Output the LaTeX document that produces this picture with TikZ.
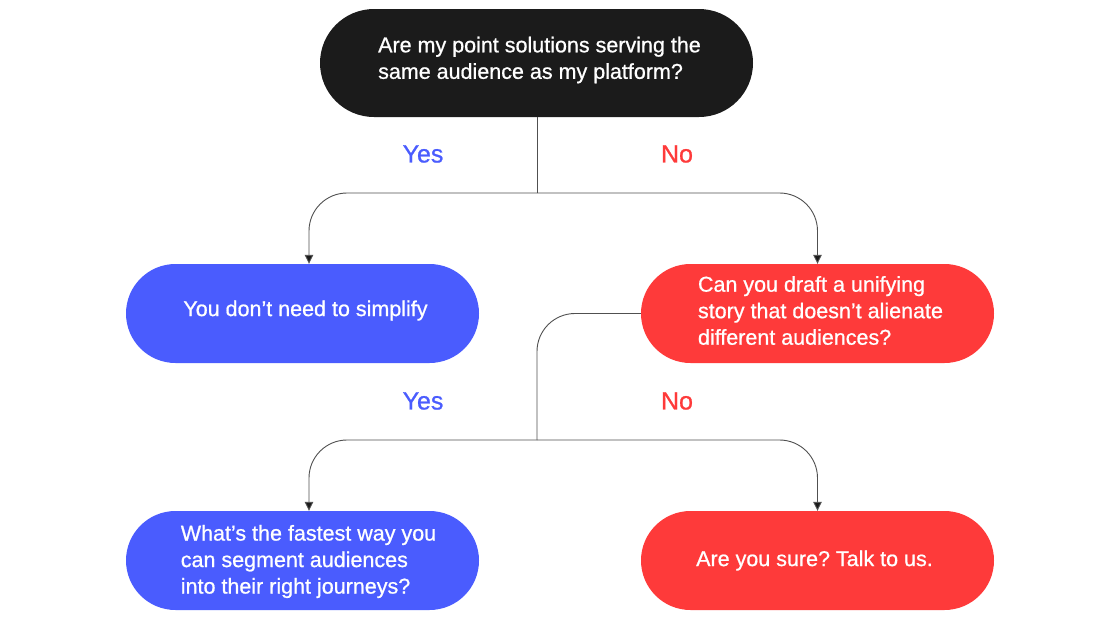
\documentclass[tikz,border=0pt]{standalone}
\usepackage{fontspec}
\setmainfont[FakeBold=0.8]{Liberation Sans}
\frenchspacing
\usetikzlibrary{arrows.meta,calc}
\definecolor{qblack}{HTML}{1B1B1B}
\definecolor{qblue}{HTML}{4A5CFE}
\definecolor{qred}{HTML}{FE3A3A}
\definecolor{qline}{HTML}{505050}
\tikzset{
  pill/.style={rectangle, rounded corners=#1, inner sep=0pt},
  bigpill/.style={pill=54pt, minimum width=433pt, minimum height=108pt, fill=qblack},
  smallpill/.style={pill=49.5pt, minimum width=353pt, minimum height=99pt},
  bluepill/.style={smallpill, fill=qblue},
  redpill/.style={smallpill, fill=qred},
  pilltext/.style={text=white, align=left, inner sep=0pt, yshift=3pt,
    font=\fontsize{21.5}{26.5}\selectfont},
  conn/.style={draw=qline, line width=0.9pt, rounded corners=38pt},
  arr/.style={conn, -{Triangle[length=9pt,width=8.5pt,fill=qblack]}},
  yeslab/.style={text=qblue, font=\fontsize{25}{26}\selectfont},
  nolab/.style={text=qred, font=\fontsize{25}{26}\selectfont}
}
\begin{document}
\begin{tikzpicture}[x=1pt,y=-1pt]
\useasboundingbox (0,0) rectangle (1120,630);
\node[bigpill, label={[pilltext, xshift=3pt]center:{Are my point solutions serving the\\same audience as my platform?}}] (q1) at (536.5,63) {};
\node[bluepill, label={[pilltext, xshift=3pt]center:{You don’t need to simplify}}] (a1) at (302.5,313.5) {};
\node[redpill, label={[pilltext, xshift=3pt]center:{Can you draft a unifying\\story that doesn’t alienate\\different audiences?}}] (q2) at (817.5,313.5) {};
\node[bluepill, label={[pilltext, xshift=6pt, yshift=-4pt]center:{What’s the fastest way you\\can segment audiences\\into their right journeys?}}] (a2) at (302.5,560.5) {};
\node[redpill, label={[pilltext, xshift=-3pt, yshift=-3pt]center:{Are you sure? Talk to us.}}] (a3) at (817.5,560.5) {};
\node[yeslab] (y1) at (423,154) {Yes};
\node[nolab] (n1) at (677,154) {No};
\node[yeslab] (y2) at (423,401) {Yes};
\node[nolab] (n2) at (677,401) {No};
\coordinate (j1) at (537,193);
\coordinate (j2) at (537,440);
\draw[conn] (q1.south -| j1) -- (j1);
\draw[arr] (j1) -| ([xshift=6.5pt]a1.north);
\draw[arr] (j1) -| (q2.north);
\draw[conn] (q2.west) -| (j2);
\draw[arr] (j2) -| ([xshift=6.5pt]a2.north);
\draw[arr] (j2) -| (a3.north);
\end{tikzpicture}
\end{document}
